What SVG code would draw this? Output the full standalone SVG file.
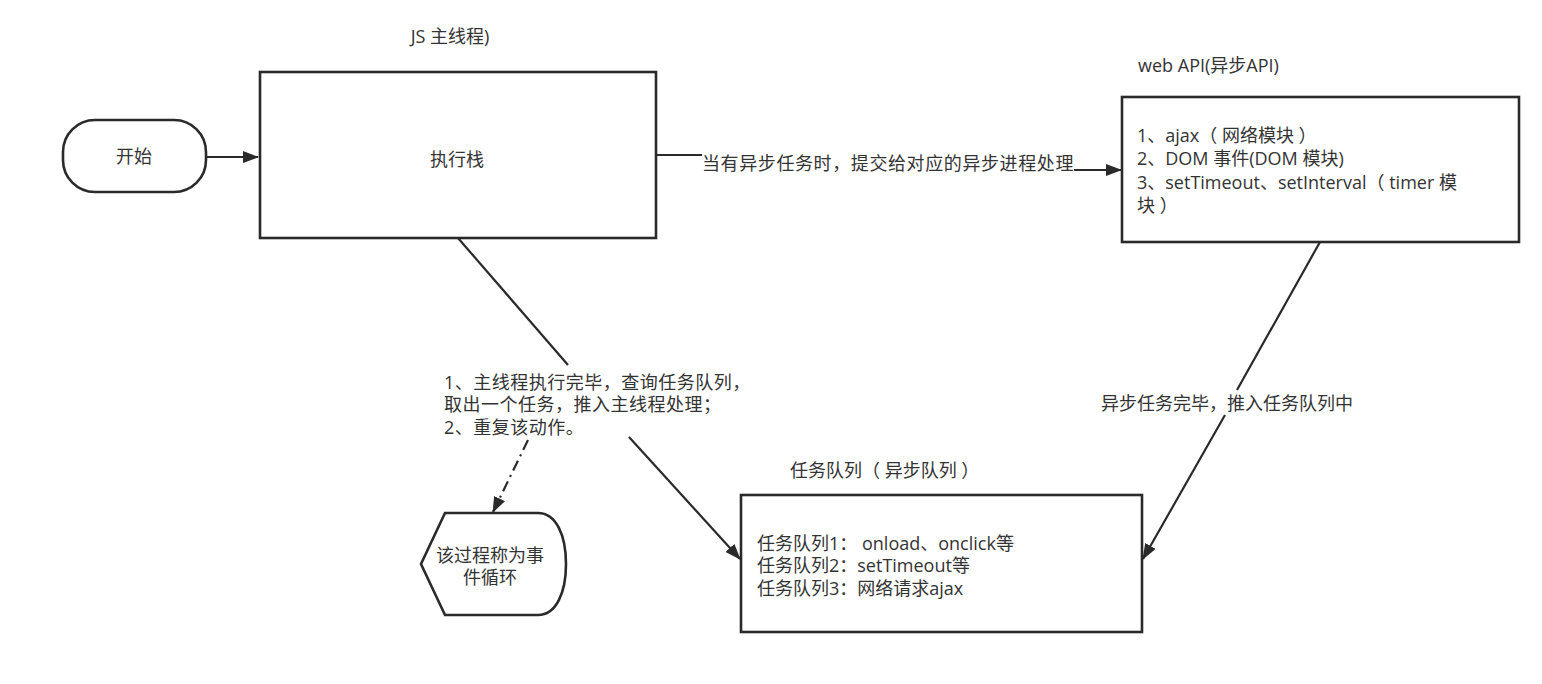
<svg xmlns="http://www.w3.org/2000/svg" width="1542" height="684" viewBox="0 0 1542 684">
<defs>
<style>
.box{fill:#fff;stroke:#2a2a2a;stroke-width:2.6}
.t{font-family:"Open Sans","Noto Sans CJK SC",sans-serif;fill:#333;font-size:18px}
.c{text-anchor:middle}
.ln{fill:none;stroke:#2a2a2a;stroke-width:2.2}
</style>
<marker id="ah" markerWidth="16" markerHeight="12" refX="15" refY="6" orient="auto" markerUnits="userSpaceOnUse">
<path d="M0,0 L16,6 L0,12 Z" fill="#2a2a2a"/>
</marker>
</defs>
<rect width="1542" height="684" fill="#fff"/>

<g id="start">
<rect class="box" x="63" y="120" width="143" height="72" rx="32" ry="32"/>
<text class="t c" x="134" y="163">开始</text>
</g>

<g id="main-stack">
<text class="t c" x="450" y="43" font-size="17">JS 主线程)</text>
<rect class="box" x="260" y="72" width="396" height="166"/>
<text class="t c" x="457" y="166">执行栈</text>
</g>

<g id="web-api">
<text class="t" x="1138" y="72" font-size="17">web API(异步API)</text>
<rect class="box" x="1122" y="97" width="397" height="145"/>
<text class="t" x="1137" y="142" font-size="19">1、ajax（ 网络模块 ）</text>
<text class="t" x="1137" y="165" font-size="19">2、DOM 事件(DOM 模块)</text>
<text class="t" x="1137" y="189" font-size="19">3、setTimeout、setInterval（ timer 模</text>
<text class="t" x="1137" y="212" font-size="19">块 ）</text>
</g>

<g id="task-queue">
<text class="t" x="790" y="477">任务队列（ 异步队列 ）</text>
<rect class="box" x="741" y="495" width="401" height="137"/>
<text class="t" x="757" y="550">任务队列1： onload、onclick等</text>
<text class="t" x="757" y="572">任务队列2：setTimeout等</text>
<text class="t" x="757" y="595">任务队列3：网络请求ajax</text>
</g>

<g id="event-loop">
<path class="box" d="M421,564 L445,513 L538,513 C556,513 566,535 566,564 C566,593 556,615 538,615 L445,615 Z"/>
<text class="t c" x="490" y="562" font-size="16">该过程称为事</text>
<text class="t c" x="490" y="584" font-size="16">件循环</text>
</g>

<g id="connectors">
<path class="ln" d="M206,157 H258" marker-end="url(#ah)"/>
<path class="ln" d="M656,155 H702"/>
<path class="ln" d="M1074,170 H1121" marker-end="url(#ah)"/>
<text class="t" x="702" y="170" font-size="19" letter-spacing="0.6">当有异步任务时，提交给对应的异步进程处理</text>
<path class="ln" d="M1320,242 L1237,390"/>
<path class="ln" d="M1225,415 L1143,559" marker-end="url(#ah)"/>
<text class="t" x="1101" y="410">异步任务完毕，推入任务队列中</text>
<path class="ln" d="M458,238 L568,365"/>
<path class="ln" d="M629,437 L740,559" marker-end="url(#ah)"/>
<text class="t" x="444" y="389" letter-spacing="0.5">1、主线程执行完毕，查询任务队列，</text>
<text class="t" x="444" y="411" letter-spacing="0.5">取出一个任务，推入主线程处理；</text>
<text class="t" x="444" y="434" letter-spacing="0.5">2、重复该动作。</text>
<path class="ln" d="M528,440 L493,512" stroke-dasharray="11,5,2,5" marker-end="url(#ah)"/>
</g>
</svg>
